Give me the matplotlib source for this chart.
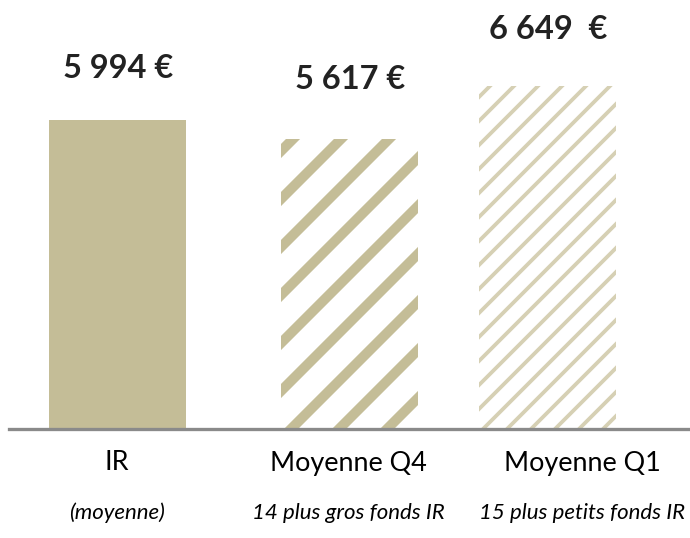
import matplotlib
matplotlib.use("Agg")
import matplotlib.pyplot as plt

categories = ["IR", "Moyenne Q4", "Moyenne Q1"]
subtitles = ["(moyenne)", "14 plus gros fonds IR", "15 plus petits fonds IR"]
values = [5994, 5617, 6649]
value_labels = ["5 994 €", "5 617 €", "6 649  €"]

# layout (pixel-like units on a 690 px wide figure)
bar_x = [117, 349.5, 547.5]
bar_w = 137
cat_x = [117, 348, 582]
label_dy = [52, 60, 57]   # px above bar top

tan = "#c4bd97"
tan_light = "#d6d0b4"

plt.rcParams["font.family"] = ["Lato", "DejaVu Sans"]

# high dpi so the hatch spacing (defined per inch) comes out wide enough
DPI = 144
k = 72 / DPI  # px -> points

W, H = 690, 538
fig = plt.figure(figsize=(W / DPI, H / DPI), dpi=DPI)
base = 109
ax = fig.add_axes([0, base / H, 1, (H - base) / H])
ax.set_xlim(0, W)
ax.set_ylim(0, 8322)
ax.axis("off")

styles = [
    dict(hatch=None, lw=0, hc=tan),
    dict(hatch="/", lw=10 * k, hc=tan),
    dict(hatch="//", lw=3.8 * k, hc=tan_light),
]

for x, v, st in zip(bar_x, values, styles):
    if st["hatch"] is None:
        ax.bar(x, v, width=bar_w, color=tan, linewidth=0)
    else:
        with plt.rc_context({"hatch.linewidth": st["lw"], "hatch.color": st["hc"]}):
            b = ax.bar(x, v, width=bar_w, color="white", edgecolor=st["hc"],
                       hatch=st["hatch"], linewidth=0)
            for p in b:
                if hasattr(p, "set_hatch_linewidth"):
                    p.set_hatch_linewidth(st["lw"])

# baseline
ax.axhline(0, xmin=9 / W, xmax=1, color="#8a8a8a", linewidth=3.3 * k, clip_on=False)

# value labels above bars
for x, v, txt, dy in zip(bar_x, values, value_labels, label_dy):
    ax.annotate(txt, (x + 1, v), xytext=(0, dy * k), textcoords="offset points",
                ha="center", va="center", fontsize=32.6 * k, fontweight="bold",
                color="#222222")

# category labels under the axis
for x, c, s in zip(cat_x, categories, subtitles):
    fig.text(x / W, 1 - 463 / H, c, ha="center", va="center", fontsize=27 * k,
             color="black")
    fig.text(x / W, 1 - 513 / H, s, ha="center", va="center", fontsize=22.2 * k,
             style="italic", color="black")

fig.savefig("out.png", dpi=DPI)
